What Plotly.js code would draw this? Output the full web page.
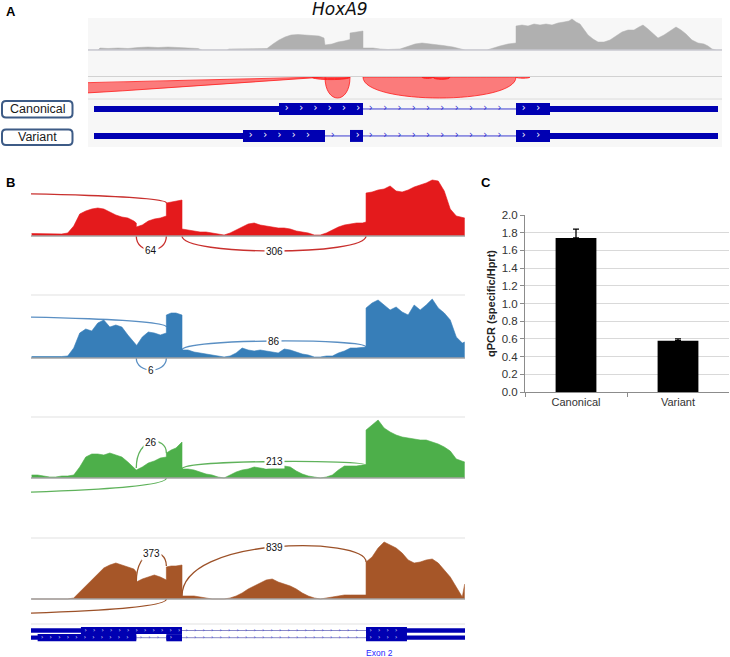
<!DOCTYPE html>
<html><head><meta charset="utf-8">
<script src="https://cdn.plot.ly/plotly-3.0.1.min.js"></script>
<style>html,body{margin:0;padding:0;background:#fff;}#chart{width:730px;height:657px;}</style>
</head><body><div id="chart"></div>
<script>
// ================= DATA =================
// Panel A : coverage (genomic position units "g", left edge of view = 0)
const posA = [0,10,12,20,30,40,50,60,70,80,90,100,110,114,139,141,170,179,185,191,197,203,210,217,224,231,236,237,244,250,256,262,262,268,275,275,285,292,300,312,320,327,334,345,355,365,372,377,399,405,412,420,428,428,434,440,446,452,458,464,470,476,481,484,488,492,496,500,505,510,516,522,528,534,540,546,551,555,560,566,570,576,582,588,593,598,604,610,616,620,624,628,634];
const covA = [0,0,2,1.5,2,1.5,2.5,3,2.5,3,2.5,2,1.5,0,0,1,1,1.5,6,10,13,15,15.5,15,14.5,14,12,5,6,8,9,10.5,17,18,19,2,2,1,0.5,1,4,6,7,6,4.5,3,1.5,0,0,2,4,6,7,24,25,24,26,25,26,25,27,28,29,31,28,26,20,15,11,8,8,10,14,18,20,20,23,25,21,15,12,15,19,23,20,16,10,7,6,4,1,0,0];

// Panel A : junction track
const juncAStart = [-3000, 237, 275, 224, 334, 345, 428];
const juncAEnd   = [237, 262, 428, 262, 345, 362, 442];
const juncADepth = [59, 21, 21, 2.6, 1.4, 2.4, 1.2];
const juncAInner = [22, 0, 0, 1.4, 0.4, 1.2, 0.2];
const juncACurve = ['q','c','c','c','c','c','c'];

// Gene models (same genomic units)
const isoformNames = ['Canonical', 'Variant'];
const canonicalExonStart = [6, 428];
const canonicalExonEnd   = [275, 630];
const canonicalCds       = [191, 462];
const variantExonStart   = [6, 262, 428];
const variantExonEnd     = [237, 275, 630];
const variantCds         = [155, 462];

// Panel B : sashimi coverage (4 samples)
const posB = [150,155,160,165,170,175,180,185,190,195,200,205,210,215,220,225,230,235,237,
              237,242,247,252,257,262,
              262,266,270,275,
              275,280,285,290,295,300,305,310,315,320,325,330,335,340,345,350,355,360,365,370,375,380,385,390,395,400,405,410,415,420,425,428,
              428,433,438,443,448,453,458,463,468,473,478,483,488,493,498,503,508,510];
const covB1 = [2.5,2.5,2,2.5,2.5,2,3,10,22,25,27,28,27,24,21,19,18,15,13,
               9,11,15,17,18,20,
               33,34,35,36,
               7,6,5,4,4,3,2,1,3,6,9,12,13,11,10,9,8,8,7,5,4,3,1,1,3,6,9,11,12,13,13,14,
               43,44,46,47,50,45,44,46,49,51,53,56,55,45,27,20,19,18];
const covB2 = [1.5,1.5,1,1,1.5,1.5,2,10,25,29,27,35,38,31,33,31,23,16,13,
               12,21,26,25,23,25,
               43,45,45,43,
               8,8,6,5,4,3,2,1,2,5,10,8,7,8,7,6,5,9,8,6,4,3,1,1,2,2,5,7,10,10,11,11,
               50,55,58,53,48,51,46,43,53,48,53,59,50,45,38,21,15,16];
const covB3 = [3,3,2,1,1,2,2,3,11,21,24,24,23,25,23,21,16,10,8,
               8,11,15,17,20,21,
               25,28,30,36,
               9,9,8,6,4,3,1,0,3,6,8,9,11,10,9,10,11,12,11,7,4,2,1,0,1,3,8,12,12,12,13,13,
               48,53,58,50,46,43,41,40,39,38,38,36,34,31,27,19,17,16];
const covB4 = [0,0,0,0,0,0,0,1,7,13,19,26,31,34,36,34,32,30,27,
               17,20,22,24,22,19,
               32,33,33,34,
               3,3,3,2,1,0,0,0,1,3,6,10,13,16,19,20,17,15,13,10,6,3,1,0,1,2,3,4,4,4,4,4,
               37,42,51,57,54,51,46,39,36,37,39,40,36,29,22,12,2,15];
const sampleColors = ['#e41a1c', '#377eb8', '#4daf4a', '#a65628'];
const arcColors    = ['#c9302e', '#5a8fc3', '#5fb25b', '#9c5128'];

// Panel B : junctions (shared coordinates), read counts per sample
const juncBStart = [-150, 237, 275];
const juncBEnd   = [262, 262, 428];
const countsS1 = [null, 64, 306];
const countsS2 = [null, 6, 86];
const countsS3 = [null, 26, 213];
const countsS4 = [null, 373, 839];
const arcApexS1 = [43, -14, -15];
const arcApexS2 = [42, -12, 17];
const arcApexS3 = [-15.5, 36, 16.5];
const arcApexS4 = [-15.5, 46, 52];
const arcFromS1 = [33, 0, 0],  arcToS1 = [33, 0, 0];
const arcFromS2 = [31, 0, 8],  arcToS2 = [31, 0, 11];
const arcFromS3 = [0, 10, 9],  arcToS3 = [0, 25, 13];
const arcFromS4 = [0, 17, 3],  arcToS4 = [0, 33, 37];

// Panel C : qPCR
const qpcrCategories = ['Canonical', 'Variant'];
const qpcrMeans = [1.74, 0.58];
const qpcrErrUp = [0.10, 0.02];

// ================= BUILD =================
const W = 730, H = 657;
const py2y = py => 1 - py / H;
const GENE_BLUE = '#0000b2';
const shapes = [], annotations = [], traces = [];

// ---- Panel A background and separators
shapes.push({type:'rect', xref:'paper', yref:'paper', x0:88/W, x1:722/W, y0:py2y(147), y1:py2y(18),
  fillcolor:'#f7f7f7', line:{width:0}, layer:'below'});
[[50,'#c8c8d0',1.6],[76.5,'#d2d2d2',1.2],[99,'#dcdcdc',1]].forEach(([py,c,w]) =>
  shapes.push({type:'line', xref:'paper', yref:'paper', x0:88/W, x1:722/W, y0:py2y(py), y1:py2y(py), line:{color:c,width:w}, layer:'above'}));

traces.push({type:'scatter', x:posA, y:covA, xaxis:'x', yaxis:'y', mode:'lines',
  line:{color:'#b0b0b0', width:0.5}, fill:'tozeroy', fillcolor:'#b0b0b0', hoverinfo:'skip'});

// junction arcs A
for (let i = 0; i < juncAStart.length; i++) {
  const s = juncAStart[i], e = juncAEnd[i], d = juncADepth[i], di = juncAInner[i], m = (s + e) / 2;
  let p;
  if (juncACurve[i] === 'q') {
    p = `M${s},0 Q${m},${-2*d} ${e},0 Q${m},${-2*di} ${s},0 Z`;
  } else {
    const k = -4/3;
    p = `M${s},0 C${s},${k*d} ${e},${k*d} ${e},0 C${e},${k*di} ${s},${k*di} ${s},0 Z`;
  }
  shapes.push({type:'path', xref:'x', yref:'y2', path:p, fillcolor:'rgba(255,0,0,0.5)', line:{color:'#ff1a1a', width:0.8}, layer:'above'});
}

// ---- gene models
function chevPos(a, b, step) { const out = []; let x = a + step*0.55; while (x < b - step*0.3) { out.push(x); x += step; } return out; }
function drawGene(o, chev) {
  const {xref, yref, row, exS, exE, cds, cdsHalf, utrHalf, intronColor, step} = o;
  for (let i = 0; i < exS.length - 1; i++) {
    shapes.push({type:'line', xref, yref, x0:exE[i], x1:exS[i+1], y0:row, y1:row, line:{color:intronColor, width:1}, layer:'below'});
    chevPos(exE[i], exS[i+1], step).forEach(x => { chev.ix.push(x); chev.iy.push(row); });
  }
  for (let i = 0; i < exS.length; i++) {
    shapes.push({type:'rect', xref, yref, x0:exS[i], x1:exE[i], y0:row-utrHalf, y1:row+utrHalf, fillcolor:GENE_BLUE, line:{width:0}, layer:'below'});
    const c0 = Math.max(exS[i], cds[0]), c1 = Math.min(exE[i], cds[1]);
    if (c1 > c0) {
      shapes.push({type:'rect', xref, yref, x0:c0, x1:c1, y0:row-cdsHalf, y1:row+cdsHalf, fillcolor:GENE_BLUE, line:{width:0}, layer:'below'});
      chevPos(c0, c1, step).forEach(x => { chev.ex.push(x); chev.ey.push(row); });
    }
  }
}
const chevA = {ix:[], iy:[], ex:[], ey:[]}, chevB = {ix:[], iy:[], ex:[], ey:[]};
drawGene({xref:'x', yref:'y3', row:1, exS:canonicalExonStart, exE:canonicalExonEnd, cds:canonicalCds, cdsHalf:0.222, utrHalf:0.111, intronColor:'#3b3bd0', step:14.3}, chevA);
drawGene({xref:'x', yref:'y3', row:2, exS:variantExonStart, exE:variantExonEnd, cds:variantCds, cdsHalf:0.222, utrHalf:0.111, intronColor:'#3b3bd0', step:14.3}, chevA);
drawGene({xref:'x2', yref:'y8', row:1, exS:canonicalExonStart, exE:canonicalExonEnd, cds:canonicalCds, cdsHalf:0.5, utrHalf:0.3, intronColor:'#8a8ac8', step:7.07}, chevB);
drawGene({xref:'x2', yref:'y8', row:2, exS:variantExonStart, exE:variantExonEnd, cds:variantCds, cdsHalf:0.5, utrHalf:0.3, intronColor:'#8a8ac8', step:7.07}, chevB);
function chevTraces(ch, xa, ya, sizeI, sizeE) {
  traces.push({type:'scatter', mode:'text', x:ch.ix, y:ch.iy, text:ch.ix.map(() => '›'), xaxis:xa, yaxis:ya,
    textfont:{family:'DejaVu Sans', size:sizeI, color:'#2a2ad0'}, hoverinfo:'skip'});
  traces.push({type:'scatter', mode:'text', x:ch.ex, y:ch.ey, text:ch.ex.map(() => '›'), xaxis:xa, yaxis:ya,
    textfont:{family:'DejaVu Sans', size:sizeE, color:'#ffffff'}, hoverinfo:'skip'});
}
chevTraces(chevA, 'x', 'y3', 10, 10);
chevTraces(chevB, 'x2', 'y8', 6, 6);

// label boxes
function rr(x0, y0, x1, y1, r) {
  const X = v => (v/W).toFixed(5), Y = v => (1 - v/H).toFixed(5);
  return `M${X(x0+r)},${Y(y0)} L${X(x1-r)},${Y(y0)} Q${X(x1)},${Y(y0)} ${X(x1)},${Y(y0+r)} L${X(x1)},${Y(y1-r)} Q${X(x1)},${Y(y1)} ${X(x1-r)},${Y(y1)} L${X(x0+r)},${Y(y1)} Q${X(x0)},${Y(y1)} ${X(x0)},${Y(y1-r)} L${X(x0)},${Y(y0+r)} Q${X(x0)},${Y(y0)} ${X(x0+r)},${Y(y0)} Z`;
}
const boxRows = [[101, 117.5], [129.5, 145]];
isoformNames.forEach((name, i) => {
  const [t, b] = boxRows[i];
  shapes.push({type:'path', xref:'paper', yref:'paper', path:rr(2, t, 72.5, b, 4), fillcolor:'#ffffff', line:{color:'#3d5b86', width:2}, layer:'above'});
  annotations.push({xref:'paper', yref:'paper', x:37.5/W, y:py2y((t+b)/2), text:name, showarrow:false,
    font:{family:'Liberation Sans, Arial', size:12.5, color:'#1a1a1a'}, xanchor:'center', yanchor:'middle'});
});

// ---- Panel B
const baselines = [236, 358, 478, 599];
[295, 417, 538, 624].forEach(py => shapes.push({type:'line', xref:'paper', yref:'paper', x0:31/W, x1:465/W, y0:py2y(py), y1:py2y(py), line:{color:'#e2e2e2', width:1.2}, layer:'below'}));
const covB = [covB1, covB2, covB3, covB4];
const countsB = [countsS1, countsS2, countsS3, countsS4];
const apexB = [arcApexS1, arcApexS2, arcApexS3, arcApexS4];
const fromB = [arcFromS1, arcFromS2, arcFromS3, arcFromS4];
const toB = [arcToS1, arcToS2, arcToS3, arcToS4];
covB.forEach((c, k) => {
  const ya = 'y' + (4 + k);
  traces.push({type:'scatter', x:posB, y:c, xaxis:'x2', yaxis:ya, mode:'lines',
    line:{color:sampleColors[k], width:0.6}, fill:'tozeroy', fillcolor:sampleColors[k], hoverinfo:'skip'});
  shapes.push({type:'line', xref:'paper', yref:ya, x0:31/W, x1:465/W, y0:0, y1:0, line:{color:'#a3a3a3', width:1.5}, layer:'above'});
  for (let j = 0; j < juncBStart.length; j++) {
    const s = juncBStart[j], e = juncBEnd[j], y0 = fromB[k][j], y1 = toB[k][j], ap = apexB[k][j];
    const yc = (ap - 0.125*(y0 + y1)) / 0.75;
    shapes.push({type:'path', xref:'x2', yref:ya, path:`M${s},${y0} C${s},${yc} ${e},${yc} ${e},${y1}`,
      line:{color:arcColors[k], width:1.3}, layer:'below'});
    if (countsB[k][j] !== null) {
      annotations.push({xref:'x2', yref:ya, x:(s+e)/2, y:ap, text:String(countsB[k][j]), showarrow:false,
        bgcolor:'#ffffff', borderpad:1, font:{family:'Liberation Sans, Arial', size:10, color:'#111'}, xanchor:'center', yanchor:'middle'});
    }
  }
});
annotations.push({xref:'x2', yref:'paper', x:438.8, y:py2y(652.5), text:'Exon 2', showarrow:false,
  font:{family:'Liberation Sans, Arial', size:8.5, color:'#1f1fff'}, xanchor:'center', yanchor:'middle'});

// ---- Panel C
traces.push({type:'bar', x:qpcrCategories, y:qpcrMeans, xaxis:'x3', yaxis:'y9', width:0.4,
  marker:{color:'#000000', line:{width:0}},
  error_y:{type:'data', symmetric:false, array:qpcrErrUp, arrayminus:[0,0], color:'#000000', thickness:1.3, width:3},
  hoverinfo:'skip'});

// ---- panel letters and title
[['A',10.5,11.5],['B',10.5,182.5],['C',486.5,183]].forEach(([t,x,y]) =>
  annotations.push({xref:'paper', yref:'paper', x:x/W, y:py2y(y), text:'<b>'+t+'</b>', showarrow:false,
    font:{family:'Liberation Sans, Arial', size:13, color:'#000'}, xanchor:'center', yanchor:'middle'}));
annotations.push({xref:'paper', yref:'paper', x:340/W, y:py2y(9.5), text:'<i>HoxA9</i>', showarrow:false,
  font:{family:'DejaVu Sans', size:17, color:'#111'}, xanchor:'center', yanchor:'middle'});

const hid = {visible:false, fixedrange:true};
const trackDom = b => [py2y(b + 30), py2y(b - 70)];
const layout = {
  width:W, height:H, margin:{l:0, r:0, t:0, b:0}, paper_bgcolor:'#ffffff', plot_bgcolor:'rgba(0,0,0,0)',
  showlegend:false, font:{family:'Liberation Sans, Arial, sans-serif', size:11, color:'#333'},
  xaxis: Object.assign({domain:[88/W, 722/W], range:[0, 634], anchor:'y'}, hid),
  yaxis: Object.assign({domain:[py2y(50), py2y(18)], range:[0, 32], anchor:'x'}, hid),
  yaxis2: Object.assign({domain:[py2y(99), py2y(77)], range:[-22, 0], anchor:'x'}, hid),
  yaxis3: Object.assign({domain:[py2y(147), py2y(99)], range:[2.41, 0.63], anchor:'x'}, hid),
  xaxis2: Object.assign({domain:[31/W, 465/W], range:[149.48, 510.25], anchor:'y4'}, hid),
  yaxis4: Object.assign({domain:trackDom(baselines[0]), range:[-30, 70], anchor:'x2'}, hid),
  yaxis5: Object.assign({domain:trackDom(baselines[1]), range:[-30, 70], anchor:'x2'}, hid),
  yaxis6: Object.assign({domain:trackDom(baselines[2]), range:[-30, 70], anchor:'x2'}, hid),
  yaxis7: Object.assign({domain:trackDom(baselines[3]), range:[-30, 70], anchor:'x2'}, hid),
  yaxis8: Object.assign({domain:[py2y(650), py2y(620)], range:[3.708, -0.458], anchor:'x2'}, hid),
  xaxis3: {domain:[525/W, 729/W], anchor:'y9', type:'category', range:[-0.5, 1.5], fixedrange:true,
    showline:true, linecolor:'#8c8c8c', linewidth:1, ticks:'outside', tickson:'boundaries', ticklen:4, tickcolor:'#8c8c8c',
    showgrid:false, zeroline:false, tickfont:{family:'Liberation Sans, Arial', size:11, color:'#333'}},
  yaxis9: {domain:[py2y(392), py2y(215)], anchor:'x3', range:[0, 2], tick0:0, dtick:0.2, tickformat:'.1f', fixedrange:true,
    showgrid:true, gridcolor:'#d9d9d9', gridwidth:1, showline:true, linecolor:'#8c8c8c', ticks:'outside', ticklen:4, tickcolor:'#8c8c8c',
    zeroline:false, tickfont:{family:'Liberation Sans, Arial', size:11.5, color:'#333'},
    title:{text:'<b>qPCR (specific/Hprt)</b>', font:{family:'Liberation Sans, Arial', size:11, color:'#222'}, standoff:3}},
  shapes, annotations
};
Plotly.newPlot('chart', traces, layout, {staticPlot:true, displayModeBar:false});
</script></body></html>
